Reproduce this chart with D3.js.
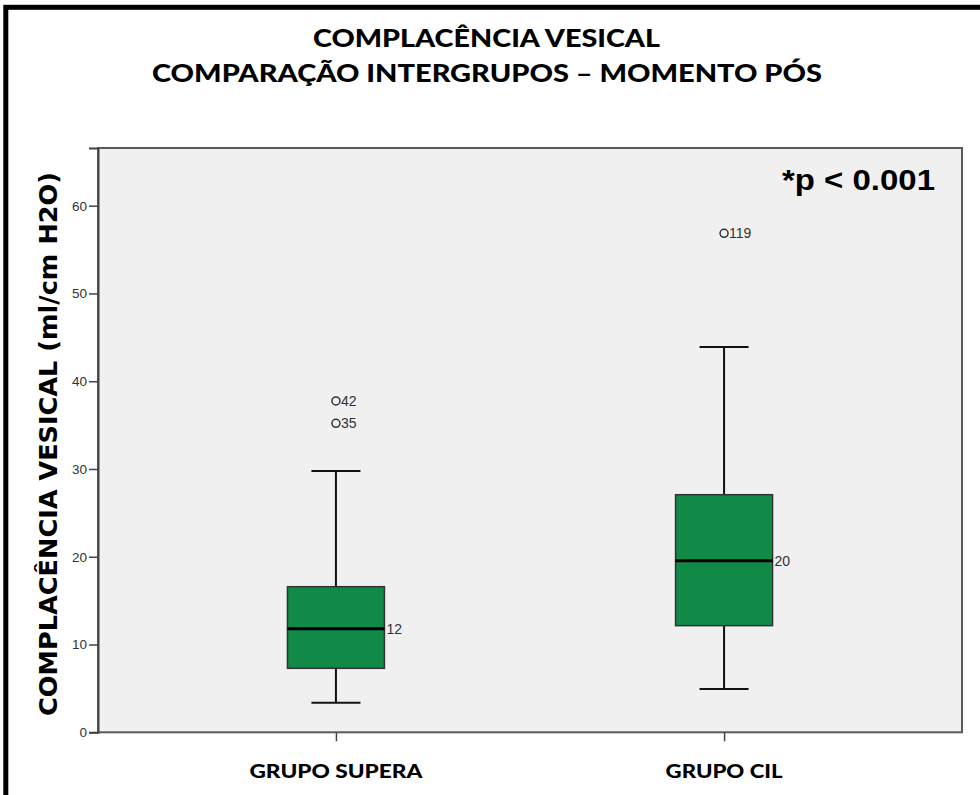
<!DOCTYPE html>
<html>
<head>
<meta charset="utf-8">
<script src="https://cdn.jsdelivr.net/npm/d3@7"></script>
<style>
  body { margin: 0; background: #fff; }
  svg { display: block; }
</style>
</head>
<body>
<div id="chart"></div>
<script>

// values
const groups = [ "GRUPO SUPERA", "GRUPO CIL" ];
const whiskerLow = [ 3.37, 4.93 ];
const q1 = [ 7.29, 12.15 ];
const medians = [ 11.8, 19.55 ];
const q3 = [ 16.59, 27.07 ];
const whiskerHigh = [ 29.77, 43.9 ];
const medianLabels = [ "12", "20" ];
const outlierGroups = [ "GRUPO SUPERA", "GRUPO SUPERA", "GRUPO CIL" ];
const outlierValues = [ 37.75, 35.2, 56.85 ];
const outlierIds = [ "42", "35", "119" ];
const yTicks = [ 0, 10, 20, 30, 40, 50, 60 ];

const titleLines = [ "COMPLACÊNCIA  VESICAL", "COMPARAÇÃO  INTERGRUPOS – MOMENTO PÓS" ];
const yTitle = "COMPLACÊNCIA  VESICAL  (ml/cm H2O)";
const pText = "*p < 0.001";

const width = 980, height = 795;
const plot = { left: 98, top: 148, right: 962, bottom: 732.3 };

const svg = d3.select( "#chart" ).append( "svg" )
  .attr( "width", width )
  .attr( "height", height );

// outer frame (cut at right / bottom like the picture)
svg.append( "rect" )
  .attr( "x", 5.8 )
  .attr( "y", 7.3 )
  .attr( "width", width + 20 )
  .attr( "height", height + 20 )
  .attr( "fill", "none" )
  .attr( "stroke", "#000" )
  .attr( "stroke-width", 5 );

// titles
svg.selectAll( "text.title" )
  .data( titleLines )
  .enter().append( "text" )
    .attr( "class", "title" )
    .attr( "x", ( d, i ) => i === 0 ? 486.5 : 487 )
    .attr( "y", ( d, i ) => i === 0 ? 47 : 82 )
    .attr( "text-anchor", "middle" )
    .attr( "textLength", ( d, i ) => i === 0 ? 347 : 670 )
    .attr( "lengthAdjust", "spacingAndGlyphs" )
    .style( "font-family", "Lato, 'Open Sans', sans-serif" )
    .style( "font-weight", "900" )
    .style( "font-size", "24.5px" )
    .attr( "fill", "#000" )
    .text( d => d );

const y = d3.scaleLinear()
  .domain( [ 0, ( plot.bottom - plot.top ) / 8.777 ] )
  .range( [ plot.bottom, plot.top ] );

const x = d3.scalePoint()
  .domain( groups )
  .range( [ plot.left, plot.right ] )
  .padding( 0.613 );

const boxW = 97;
const capW = 49;

// plot background
svg.append( "rect" )
  .attr( "x", plot.left )
  .attr( "y", plot.top )
  .attr( "width", plot.right - plot.left )
  .attr( "height", plot.bottom - plot.top )
  .attr( "fill", "#f0f0f0" )
  .attr( "stroke", "#5a5a5a" )
  .attr( "stroke-width", 2 );

// y axis
const yAxis = svg.append( "g" )
  .attr( "transform", "translate(" + plot.left + ",0)" )
  .call( d3.axisLeft( y ).tickValues( yTicks ).tickSize( 9 ).tickPadding( 2 ) );

yAxis.select( ".domain" ).attr( "stroke", "#444" ).attr( "stroke-width", 2 );
yAxis.selectAll( ".tick line" ).attr( "stroke", "#444" ).attr( "stroke-width", 1.5 );
yAxis.selectAll( ".tick text" )
  .style( "font-family", "'Liberation Sans', Arial, sans-serif" )
  .style( "font-size", "13.5px" )
  .attr( "fill", "#333" );

// x axis
const xAxis = svg.append( "g" )
  .attr( "transform", "translate(0," + plot.bottom + ")" )
  .call( d3.axisBottom( x ).tickSize( 9 ).tickFormat( "" ) );

xAxis.select( ".domain" ).remove();
xAxis.selectAll( ".tick line" ).attr( "stroke", "#444" ).attr( "stroke-width", 1.5 );

svg.selectAll( "text.xlabel" )
  .data( groups )
  .enter().append( "text" )
    .attr( "class", "xlabel" )
    .attr( "x", d => x( d ) )
    .attr( "y", 778 )
    .attr( "text-anchor", "middle" )
    .attr( "textLength", ( d, i ) => i === 0 ? 173 : 117 )
    .attr( "lengthAdjust", "spacingAndGlyphs" )
    .style( "font-family", "Lato, 'Open Sans', sans-serif" )
    .style( "font-weight", "900" )
    .style( "font-size", "18px" )
    .attr( "fill", "#000" )
    .text( d => d );

// y title
svg.append( "text" )
  .attr( "transform", "translate(57," + ( ( 172 + 716 ) / 2 ) + ") rotate(-90)" )
  .attr( "text-anchor", "middle" )
  .attr( "textLength", 544 )
  .attr( "lengthAdjust", "spacingAndGlyphs" )
  .style( "font-family", "'DejaVu Sans', Verdana, sans-serif" )
  .style( "font-weight", "bold" )
  .style( "font-size", "25px" )
  .attr( "fill", "#000" )
  .text( yTitle );

// p value
svg.append( "text" )
  .attr( "x", 935 )
  .attr( "y", 190 )
  .attr( "text-anchor", "end" )
  .attr( "textLength", 153 )
  .attr( "lengthAdjust", "spacingAndGlyphs" )
  .style( "font-family", "'Liberation Sans', Arial, sans-serif" )
  .style( "font-weight", "bold" )
  .style( "font-size", "30px" )
  .attr( "fill", "#000" )
  .text( pText );

// boxes
const boxes = svg.selectAll( "g.box" )
  .data( groups )
  .enter().append( "g" )
    .attr( "class", "box" );

// whiskers
boxes.append( "line" )
  .attr( "x1", d => x( d ) )
  .attr( "x2", d => x( d ) )
  .attr( "y1", ( d, i ) => y( whiskerHigh[ i ] ) )
  .attr( "y2", ( d, i ) => y( q3[ i ] ) )
  .attr( "stroke", "#111" )
  .attr( "stroke-width", 2 );

boxes.append( "line" )
  .attr( "x1", d => x( d ) )
  .attr( "x2", d => x( d ) )
  .attr( "y1", ( d, i ) => y( q1[ i ] ) )
  .attr( "y2", ( d, i ) => y( whiskerLow[ i ] ) )
  .attr( "stroke", "#111" )
  .attr( "stroke-width", 2 );

boxes.append( "line" )
  .attr( "x1", d => x( d ) - capW / 2 )
  .attr( "x2", d => x( d ) + capW / 2 )
  .attr( "y1", ( d, i ) => y( whiskerHigh[ i ] ) )
  .attr( "y2", ( d, i ) => y( whiskerHigh[ i ] ) )
  .attr( "stroke", "#111" )
  .attr( "stroke-width", 2 );

boxes.append( "line" )
  .attr( "x1", d => x( d ) - capW / 2 )
  .attr( "x2", d => x( d ) + capW / 2 )
  .attr( "y1", ( d, i ) => y( whiskerLow[ i ] ) )
  .attr( "y2", ( d, i ) => y( whiskerLow[ i ] ) )
  .attr( "stroke", "#111" )
  .attr( "stroke-width", 2 );

boxes.append( "rect" )
  .attr( "x", d => x( d ) - boxW / 2 )
  .attr( "y", ( d, i ) => y( q3[ i ] ) )
  .attr( "width", boxW )
  .attr( "height", ( d, i ) => y( q1[ i ] ) - y( q3[ i ] ) )
  .attr( "fill", "#118a47" )
  .attr( "stroke", "#333" )
  .attr( "stroke-width", 1.5 );

boxes.append( "line" )
  .attr( "x1", d => x( d ) - boxW / 2 )
  .attr( "x2", d => x( d ) + boxW / 2 )
  .attr( "y1", ( d, i ) => y( medians[ i ] ) )
  .attr( "y2", ( d, i ) => y( medians[ i ] ) )
  .attr( "stroke", "#000" )
  .attr( "stroke-width", 3 );

boxes.append( "text" )
  .attr( "x", d => x( d ) + boxW / 2 + 2 )
  .attr( "y", ( d, i ) => y( medians[ i ] ) + 5 )
  .style( "font-family", "'Liberation Sans', Arial, sans-serif" )
  .style( "font-size", "14px" )
  .attr( "fill", "#333" )
  .text( ( d, i ) => medianLabels[ i ] );

// outliers
const outs = svg.selectAll( "g.outlier" )
  .data( outlierValues )
  .enter().append( "g" )
    .attr( "class", "outlier" );

outs.append( "circle" )
  .attr( "cx", ( d, i ) => x( outlierGroups[ i ] ) )
  .attr( "cy", d => y( d ) )
  .attr( "r", 4 )
  .attr( "fill", "none" )
  .attr( "stroke", "#333" )
  .attr( "stroke-width", 1.5 );

outs.append( "text" )
  .attr( "x", ( d, i ) => x( outlierGroups[ i ] ) + 5 )
  .attr( "y", d => y( d ) + 5 )
  .style( "font-family", "'Liberation Sans', Arial, sans-serif" )
  .style( "font-size", "14px" )
  .attr( "fill", "#333" )
  .text( ( d, i ) => outlierIds[ i ] );

</script>
</body>
</html>
